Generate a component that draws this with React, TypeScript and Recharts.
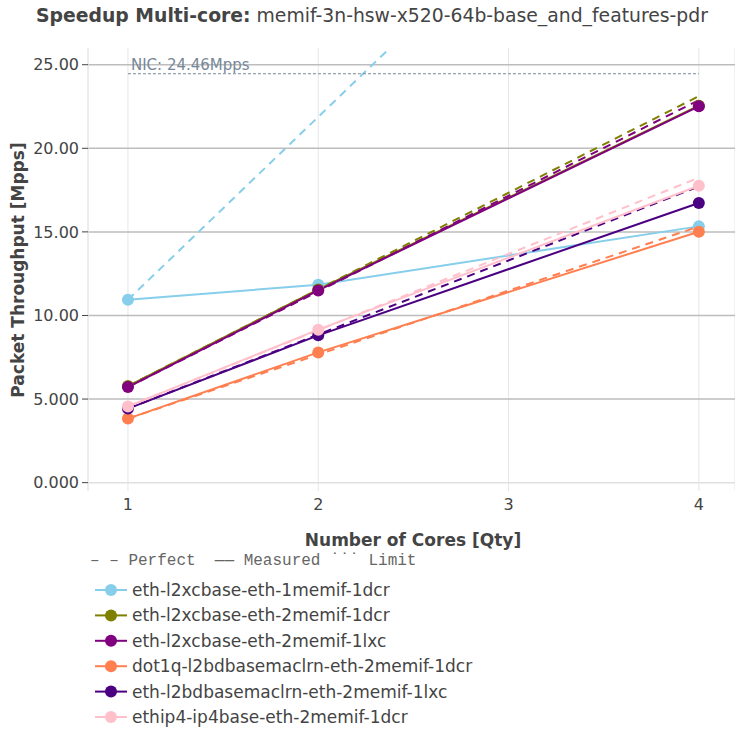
import React from "react";
import {
  LineChart,
  Line,
  XAxis,
  YAxis,
  CartesianGrid,
  ReferenceLine,
  LabelList,
} from "recharts";

const cores = [1, 2, 4];
const xTicks = [1, 2, 3, 4];
const yTicks = [0, 5, 10, 15, 20, 25];
const nicLimit = 24.46;
const limitCores = [1, 4];

const seriesNames = [
  "eth-l2xcbase-eth-1memif-1dcr",
  "eth-l2xcbase-eth-2memif-1dcr",
  "eth-l2xcbase-eth-2memif-1lxc",
  "dot1q-l2bdbasemaclrn-eth-2memif-1dcr",
  "eth-l2bdbasemaclrn-eth-2memif-1lxc",
  "ethip4-ip4base-eth-2memif-1dcr",
];

// measured throughput [Mpps] at 1, 2, 4 cores
const measuredL2xc1memif = [10.94, 11.84, 15.33];
const measuredL2xc2memifDcr = [5.78, 11.56, 22.55];
const measuredL2xc2memifLxc = [5.72, 11.5, 22.51];
const measuredDot1q = [3.83, 7.79, 15.01];
const measuredL2bdLxc = [4.43, 8.81, 16.73];
const measuredIp4 = [4.56, 9.15, 17.76];

// perfect scaling [Mpps] at 1, 2, 4 cores
const perfectL2xc1memif = [10.94, 21.88, 43.76];
const perfectL2xc2memifDcr = [5.78, 11.56, 23.12];
const perfectL2xc2memifLxc = [5.72, 11.44, 22.88];
const perfectDot1q = [3.83, 7.66, 15.32];
const perfectL2bdLxc = [4.43, 8.86, 17.72];
const perfectIp4 = [4.56, 9.12, 18.24];

const measured = [
  measuredL2xc1memif,
  measuredL2xc2memifDcr,
  measuredL2xc2memifLxc,
  measuredDot1q,
  measuredL2bdLxc,
  measuredIp4,
];
const perfect = [
  perfectL2xc1memif,
  perfectL2xc2memifDcr,
  perfectL2xc2memifLxc,
  perfectDot1q,
  perfectL2bdLxc,
  perfectIp4,
];

const colors = ["#87ceeb", "#808000", "#800080", "#ff7f50", "#4b0082", "#ffc0cb"];

const FONT = "'DejaVu Sans', sans-serif";
const TEXT = "#444";

const toRows = (vals: number[]) => cores.map((c, i) => ({ x: c, y: vals[i] }));
const limitRows = limitCores.map((c) => ({ x: c, y: nicLimit }));

const fmtY = (v: number) => (v < 10 ? v.toFixed(3) : v.toFixed(2));

export default function App() {
  return (
    <div
      style={{
        position: "absolute",
        left: 0,
        top: 0,
        width: 735,
        height: 733,
        overflow: "hidden",
        background: "#fff",
        fontFamily: FONT,
      }}
    >
      <LineChart
        width={735}
        height={530}
        margin={{ top: 48, right: 0, left: 0, bottom: 9 }}
      >
        <CartesianGrid horizontal={false} stroke="#e6e6e6" strokeWidth={1} />
        {yTicks.map((t) => (
          <ReferenceLine
            key={t}
            y={t}
            stroke={t === 0 ? "#e0e0e0" : "#bdbdbd"}
            strokeWidth={1.5}
          />
        ))}
        <XAxis
          dataKey="x"
          type="number"
          domain={[0.79, 4.19]}
          ticks={xTicks}
          allowDataOverflow
          axisLine={false}
          tickLine={false}
          tickSize={6}
          tickMargin={2}
          height={30}
          tick={{ fontSize: 16, fill: TEXT, fontFamily: FONT }}
        />
        <YAxis
          type="number"
          domain={[-0.5, 26]}
          ticks={yTicks}
          allowDataOverflow
          width={88}
          tickFormatter={fmtY}
          axisLine={{ stroke: "#e6e6e6" }}
          tickLine={{ stroke: TEXT }}
          tickSize={6}
          tickMargin={3}
          tick={{ fontSize: 16, fill: TEXT, fontFamily: FONT }}
        />
        {seriesNames.map((name, i) => [
          <Line
            key={name + "-perfect"}
            data={toRows(perfect[i])}
            dataKey="y"
            stroke={colors[i]}
            strokeWidth={2}
            strokeDasharray="8 6"
            dot={false}
            activeDot={false}
            isAnimationActive={false}
          />,
          <Line
            key={name + "-measured"}
            data={toRows(measured[i])}
            dataKey="y"
            stroke={colors[i]}
            strokeWidth={2}
            dot={{ r: 6, fill: colors[i], stroke: colors[i], strokeWidth: 0 }}
            activeDot={false}
            isAnimationActive={false}
          />,
        ])}
        <Line
          data={limitRows}
          dataKey="y"
          stroke="#778899"
          strokeWidth={1}
          strokeDasharray="3 2"
          dot={false}
          activeDot={false}
          isAnimationActive={false}
        >
          <LabelList
            dataKey="y"
            content={(p: any) =>
              p.index === 0 ? (
                <text
                  x={p.x + 3}
                  y={p.y - 4}
                  fontSize={15}
                  fill="#778899"
                  fontFamily={FONT}
                >
                  NIC: {nicLimit.toFixed(2)}Mpps
                </text>
              ) : null
            }
          />
        </Line>
      </LineChart>

      <svg
        width={735}
        height={733}
        style={{ position: "absolute", left: 0, top: 0, pointerEvents: "none" }}
        fontFamily={FONT}
      >
        <text x={372} y={22} textAnchor="middle" fontSize={18.8} fill={TEXT}>
          <tspan fontWeight="bold">Speedup Multi-core:</tspan>
          <tspan> memif-3n-hsw-x520-64b-base_and_features-pdr</tspan>
        </text>
        <text
          x={0}
          y={0}
          transform="translate(24,270) rotate(-90)"
          textAnchor="middle"
          fontSize={17}
          fontWeight="bold"
          fill={TEXT}
        >
          Packet Throughput [Mpps]
        </text>
        <text
          x={413}
          y={546}
          textAnchor="middle"
          fontSize={17}
          fontWeight="bold"
          fill={TEXT}
        >
          Number of Cores [Qty]
        </text>
        <text
          x={90}
          y={565}
          fontSize={16}
          fill="#666"
          fontFamily="'Liberation Mono', monospace"
          style={{ whiteSpace: "pre" }}
        >
          {"– – Perfect  —— Measured ˙˙˙ Limit"}
        </text>
        {seriesNames.map((name, i) => {
          const cy = 590 + i * 25.4;
          return (
            <g key={name}>
              <line x1={95} x2={127} y1={cy} y2={cy} stroke={colors[i]} strokeWidth={2} />
              <circle cx={111} cy={cy} r={6} fill={colors[i]} />
              <text x={132} y={cy + 6} fontSize={17} fill={TEXT}>
                {name}
              </text>
            </g>
          );
        })}
      </svg>
    </div>
  );
}
